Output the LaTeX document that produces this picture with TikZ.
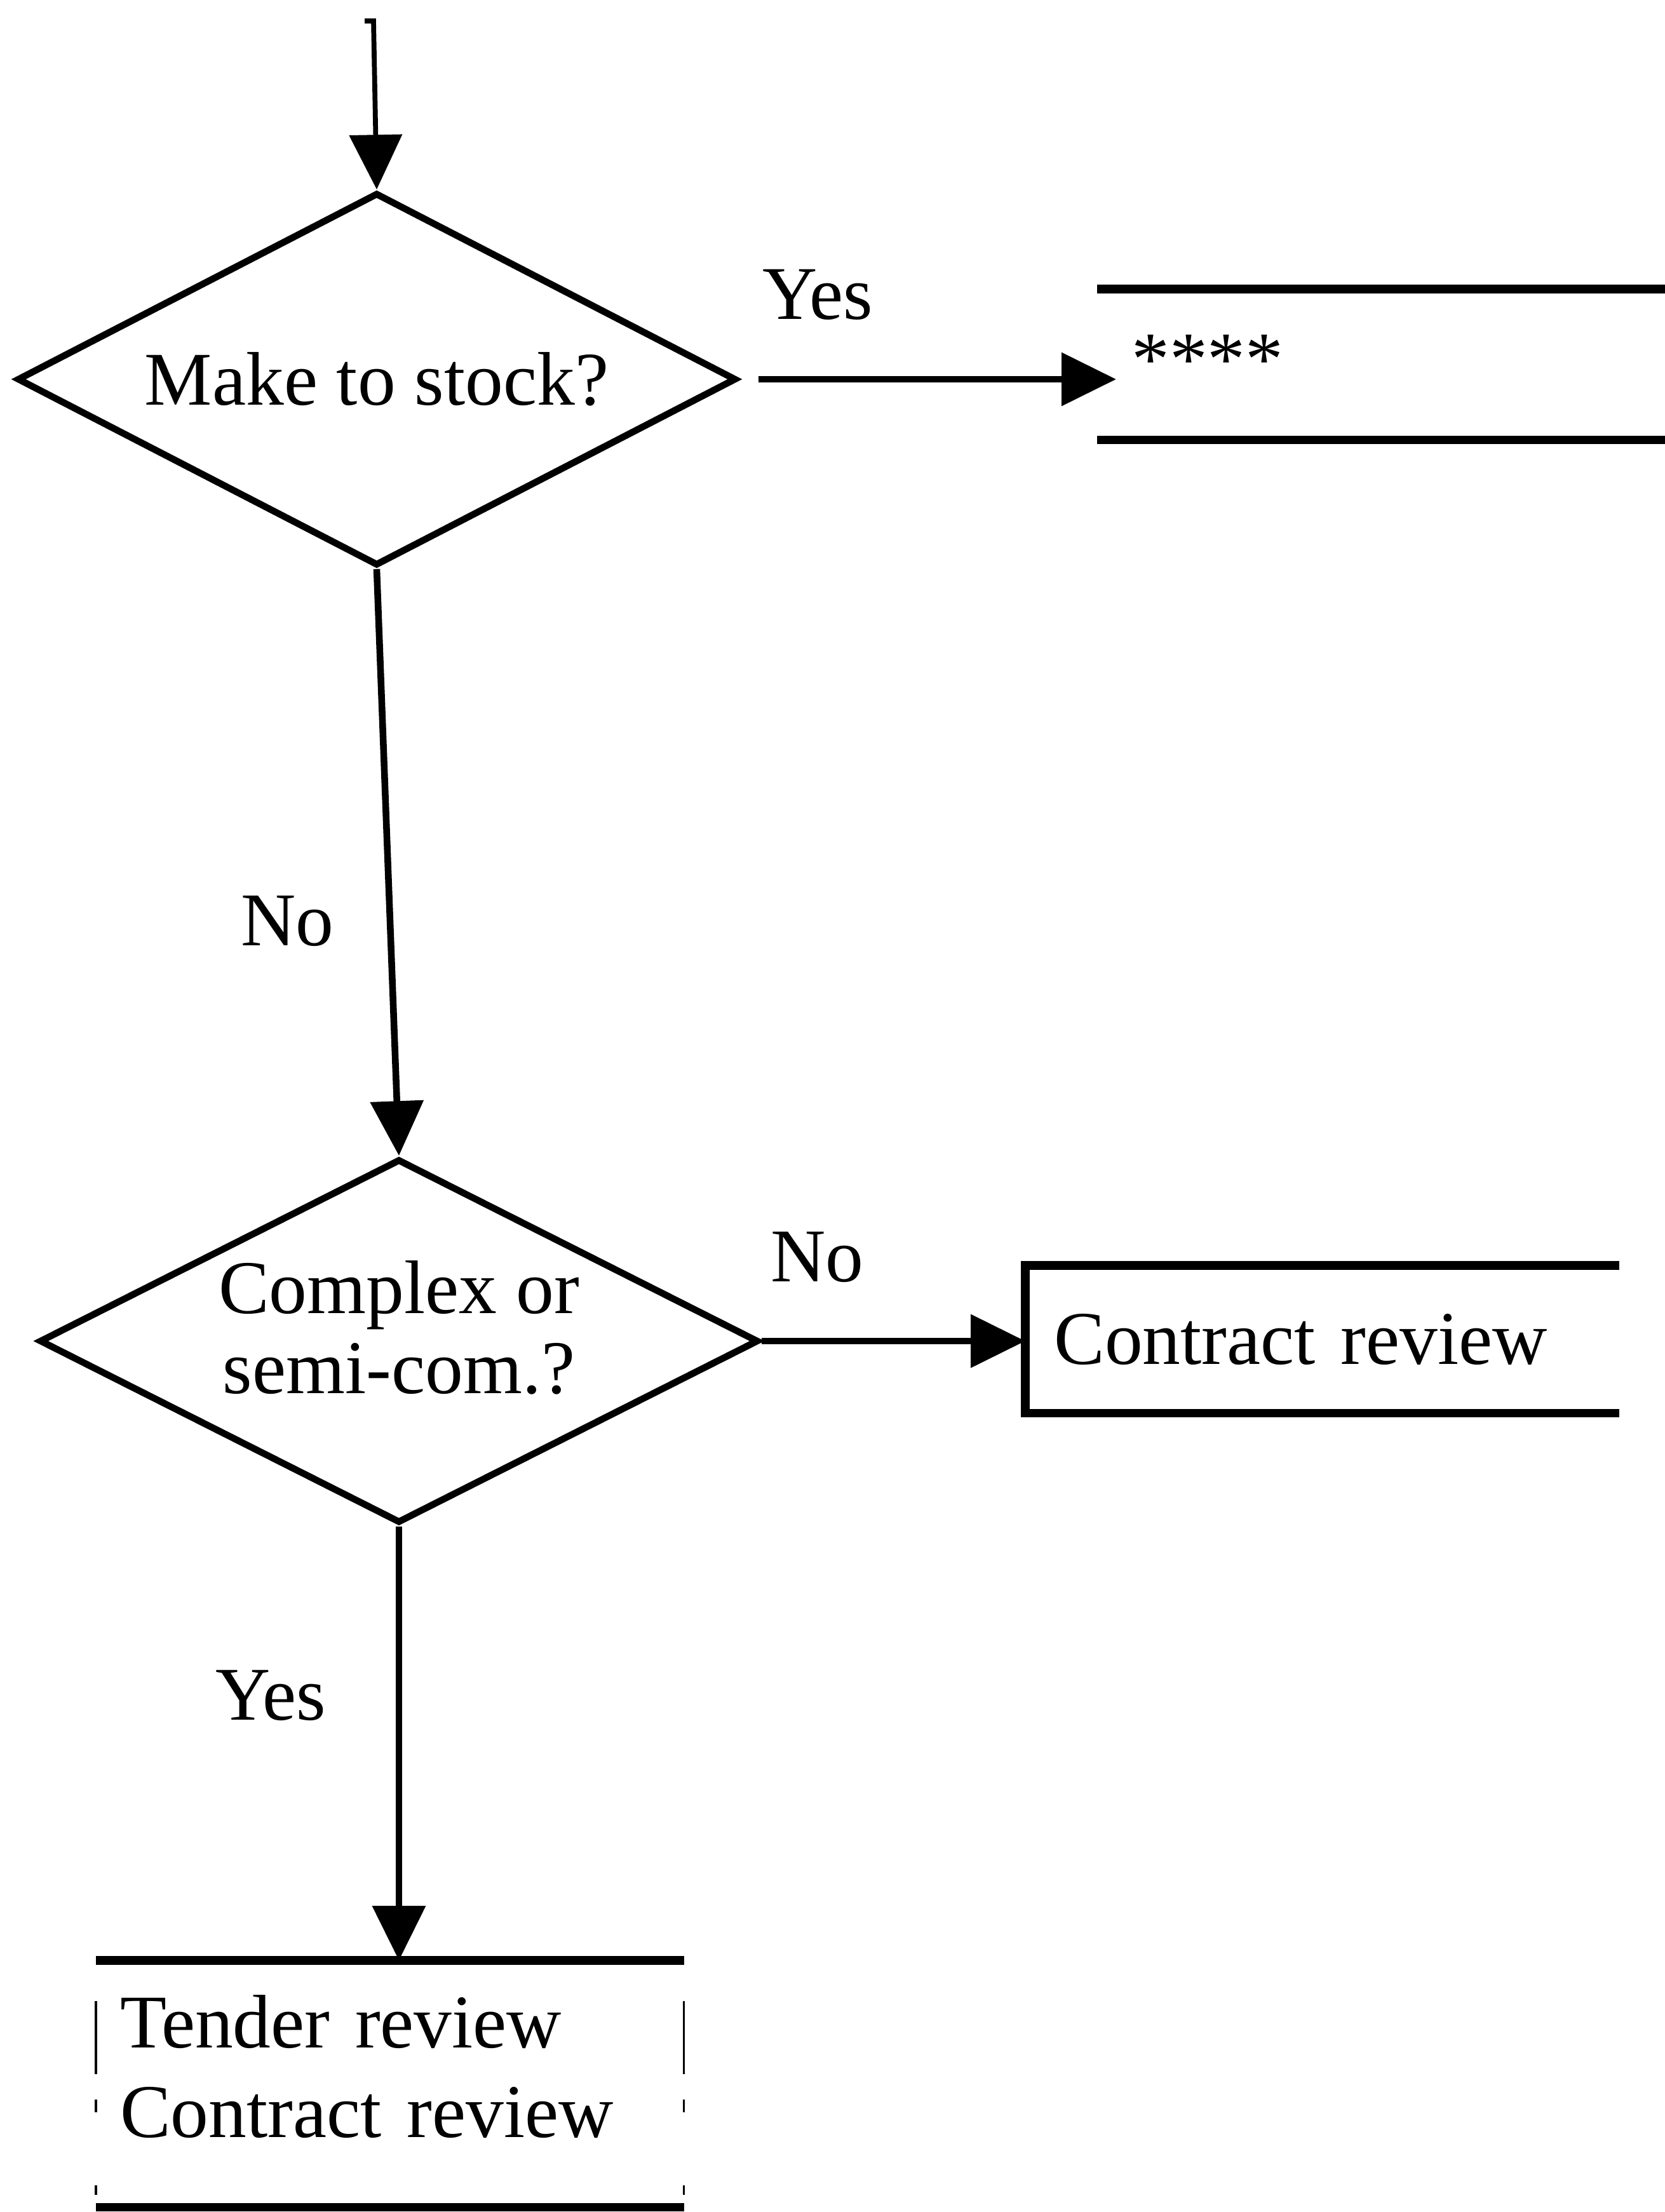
\documentclass[tikz,border=0pt]{standalone}
\usepackage{fontspec}
\setmainfont{Liberation Serif}
\usetikzlibrary{positioning,arrows.meta,shapes.geometric}

\begin{document}
\begin{tikzpicture}[
  line width=3pt, font=\fontsize{34}{36}\selectfont,
  dec/.style={draw, diamond, aspect=1.95, inner sep=0pt, align=center,
              minimum width=11.32cm, minimum height=#1},
  dec/.default=5.87cm,
  box/.style={anchor=north west, inner sep=0pt, inner xsep=#1, align=left},
  box/.default=4mm,
  edge/.style={line width=3.8pt},
  side/.style={line width=1pt,
               dash pattern=on 0mm off 6.4mm on 11.5mm off 4mm on 2mm off 11.5mm on 1.5mm off 2mm},
  lbl/.style={inner sep=1pt},
  >={Triangle[length=8.6mm, width=8.2mm]}]
  \useasboundingbox (0,0) rectangle (26.2,-34.82);
  % decisions
  \coordinate (in) at (5.88,-0.33);
  \node[dec]        (stockq)   at (5.93,-5.97)  {Make to stock?};
  \node[dec=5.73cm, text depth=0.44cm] (complexq) at (6.28,-21.11) {Complex or\\semi-com.?};
  % outcomes
  \node[box=4.9mm, text width=7.95cm, minimum height=2.27cm] (stock) at (17.27,-4.55) {\raisebox{1.5mm}{****}};
  \node[box, text width=8.44cm, minimum height=2.22cm] (review) at (16.14,-19.92) {Contract review};
  \node[box=3.3mm, text width=8.49cm, minimum height=3.78cm, text depth=1.96cm,
        font=\fontsize{34}{40}\selectfont]
       (tender) at (1.51,-30.86) {Tender review\\Contract review};
  % open boxes
  \draw[edge] (stock.north west) -- (stock.north east);
  \draw[edge] (stock.south west) -- (stock.south east);
  \draw[edge] (review.north east) -- (review.north west) -- (review.south west) -- (review.south east);
  \draw[edge] (tender.north west) -- (tender.north east);
  \draw[edge] (tender.south west) -- (tender.south east);
  \draw[side] (tender.north west) -- (tender.south west);
  \draw[side] (tender.north east) -- (tender.south east);
  % flow
  \draw[->, line width=2.2pt] ([xshift=-1.4mm]in) -- (in) -- (stockq.north);
  \draw[->] ([xshift=3mm]stockq.east) -- node[lbl, pos=0.165, above=8.5mm] {Yes} ([xshift=3mm]stockq.east -| stock.west);
  \draw[->] (stockq.south) -- node[lbl, pos=0.6, left=8mm] {No} (complexq.north);
  \draw[->] (complexq.east) -- node[lbl, pos=0.21, above=8.4mm] {No} (complexq.east -| review.west);
  \draw[->] (complexq.south) -- node[lbl, pos=0.39, left=10.6mm] {Yes} (complexq.south |- tender.north);
\end{tikzpicture}
\end{document}
